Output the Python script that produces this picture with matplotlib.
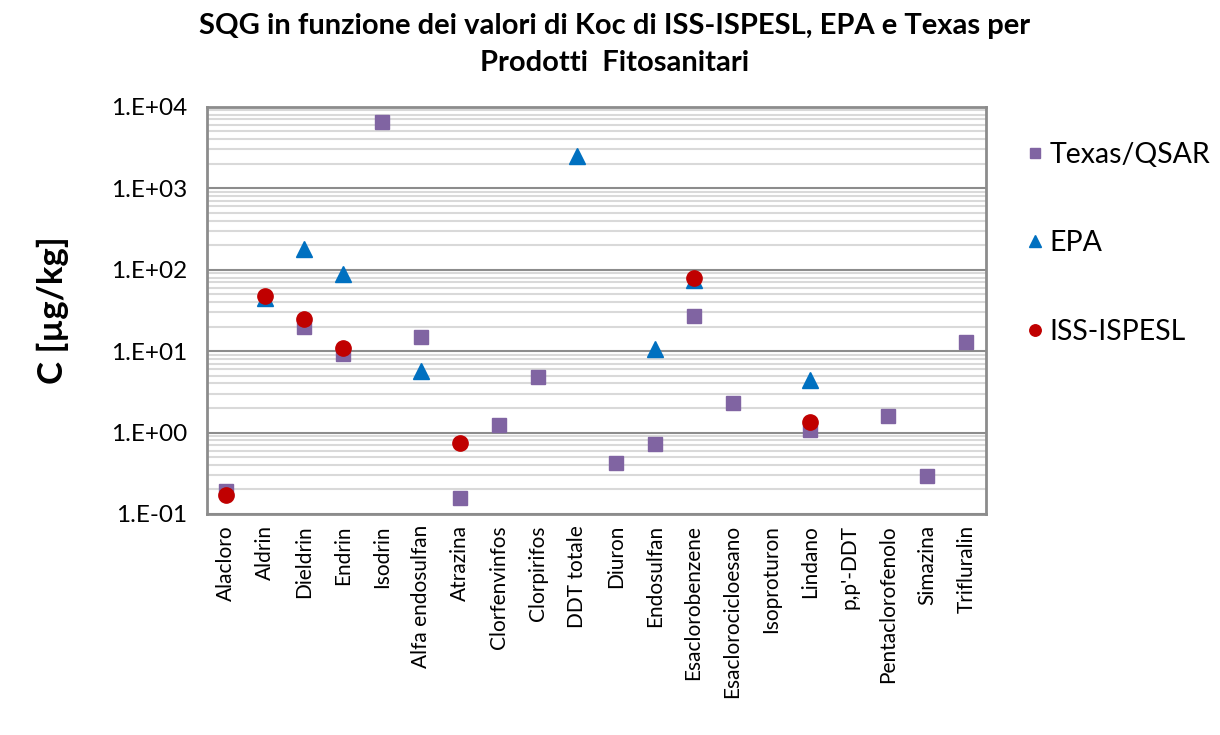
import numpy as np
import matplotlib.pyplot as plt
from matplotlib.ticker import FixedLocator, FuncFormatter, NullFormatter

plt.rcParams['font.family'] = ['Lato', 'DejaVu Sans']

categories = ["Alacloro", "Aldrin", "Dieldrin", "Endrin", "Isodrin", "Alfa endosulfan",
              "Atrazina", "Clorfenvinfos", "Clorpirifos", "DDT totale", "Diuron",
              "Endosulfan", "Esaclorobenzene", "Esaclorocicloesano", "Isoproturon",
              "Lindano", "p,p'-DDT", "Pentaclorofenolo", "Simazina", "Trifluralin"]

nan = np.nan
texas = [0.19, nan, 20, 9.2, 6500, 15, 0.158, 1.25, 4.8, nan, 0.42,
         0.73, 27, 2.3, nan, 1.07, nan, 1.6, 0.29, 13]
epa = [nan, 45, 180, 88, nan, 5.7, nan, nan, nan, 2450, nan,
       10.5, 75, nan, nan, 4.4, nan, nan, nan, nan]
iss = [0.17, 48, 25, 10.8, nan, nan, 0.75, nan, nan, nan, nan,
       nan, 78, nan, nan, 1.35, nan, nan, nan, nan]

fig = plt.figure(figsize=(12.2, 7.35), dpi=100)
ax = fig.add_axes([0.1694, 0.3007, 0.6386, 0.5541])

x = np.arange(len(categories))
ax.plot(x, texas, 's', color='#8064A2', ms=9.5, label='Texas/QSAR', zorder=3)
ax.plot(x, epa, '^', color='#0070C0', ms=11, label='EPA', zorder=4)
ax.plot(x, iss, 'o', color='#C00000', ms=11, label='ISS-ISPESL', zorder=5)

ax.set_yscale('log')
ax.set_ylim(0.1, 1e4)
ax.set_xlim(-0.5, len(categories) - 0.5)

# Excel-style gridlines: dark majors at each decade, light minors at 2..9
minors = [m * 10.0 ** d for d in range(-1, 4) for m in range(2, 10)]
ax.yaxis.set_minor_locator(FixedLocator(minors))
ax.yaxis.set_minor_formatter(NullFormatter())
ax.yaxis.set_major_locator(FixedLocator([0.1, 1, 10, 100, 1000, 10000]))
ax.yaxis.set_major_formatter(FuncFormatter(lambda v, p: "1.E%+03d" % round(np.log10(v))))
ax.grid(which='minor', axis='y', color='#D9D9D9', lw=1.5, zorder=0)
ax.grid(which='major', axis='y', color='#8C8C8C', lw=1.5, zorder=1)
ax.tick_params(axis='y', which='both', length=0, labelsize=17.5, pad=14)

ax.set_xticks(x)
ax.set_xticklabels(categories, rotation=90, fontsize=15)
ax.tick_params(axis='x', length=0, pad=8)

for s in ax.spines.values():
    s.set_color('#8C8C8C')
    s.set_linewidth(2)

ax.set_ylabel('C [µg/kg]', fontsize=25, fontweight='bold', labelpad=30)

fig.text(0.504, 0.982, "SQG in funzione dei valori di Koc di ISS-ISPESL, EPA e Texas per\nProdotti  Fitosanitari",
         ha='center', va='top', fontsize=21, fontweight='bold', linespacing=1.5)

fig.legend(loc='upper left', bbox_to_anchor=(0.818, 0.842), frameon=False,
           fontsize=20.5, labelspacing=2.2, handlelength=0.8, handletextpad=0.12,
           markerscale=0.75)

fig.savefig('out.png', dpi=100)
